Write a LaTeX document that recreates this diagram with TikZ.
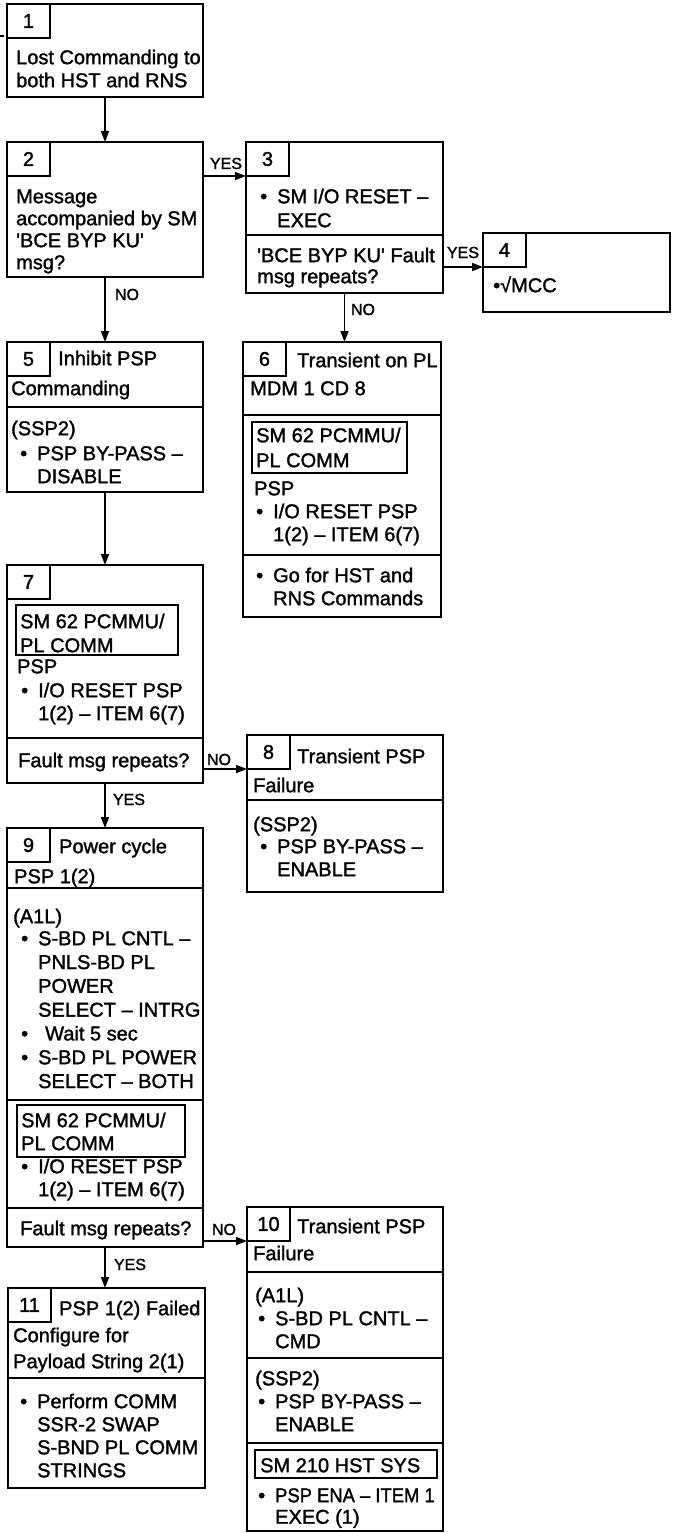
\documentclass[tikz,border=0pt]{standalone}
\usepackage{fontspec}
\usepackage{graphicx}
\setmainfont[FakeBold=1.5]{Liberation Sans}
\usetikzlibrary{arrows.meta}

\newcommand{\bul}{\llap{\textbullet\hspace{10pt}}}
\newcommand{\sq}{\textquotesingle}

\begin{document}
\begin{tikzpicture}[x=1pt,y=-1pt,
  box/.style={draw,line width=2pt,anchor=north west,inner sep=0pt,outer sep=0pt},
  numbox/.style={draw,line width=1.6pt,anchor=north west,inner sep=0pt,outer sep=0pt,
    minimum width=43pt,minimum height=34pt,font=\fontsize{20}{23}\selectfont},
  smbox/.style={draw,line width=1.6pt,anchor=north west,inner sep=0pt,outer sep=0pt},
  txt/.style={anchor=north west,inner sep=0pt,align=left,yshift={0.7*#1pt},
    font=\fontsize{20}{#1}\selectfont},
  txt/.default=23,
  lbl/.style={anchor=base,inner sep=0pt,font=\fontsize{16}{18}\selectfont},
  arr/.style={line width=1.6pt,-{Triangle[length=11pt,width=8pt]}},
  sep/.style={line width=2pt}]

\useasboundingbox (0,0) rectangle (672,1533);

%% boxes
% 1
\node[box,minimum width=196pt,minimum height=93pt] (b1) at (7,4) {};
\node[numbox] (n1) at (7,4) {1};
\node[txt] (t1) at (16,64) {\strut Lost Commanding to\\both HST and RNS};
\coordinate (in1) at (0,36);
\draw[line width=1.5pt] (in1) -- ++(4,0);

% 2
\node[box,minimum width=196pt,minimum height=135pt] (b2) at (7,142) {};
\node[numbox] (n2) at (7,142) {2};
\node[txt=22] (t2) at (16,203) {\strut Message\\accompanied by SM\\\sq BCE BYP KU\sq\\msg?};

% 3
\node[box,minimum width=197pt,minimum height=151pt] (b3) at (246,142) {};
\node[numbox] (n3) at (246,142) {3};
\node[txt=24] (t3a) at (277,203) {\strut\bul SM I/O RESET –\\EXEC};
\draw[sep] (b3.west |- 0,235) -- (b3.east |- 0,235);
\node[txt=21] (t3b) at (257,262) {\strut\sq BCE BYP KU\sq{} Fault\\msg repeats?};

% 4
\node[box,minimum width=187pt,minimum height=79pt] (b4) at (483,233) {};
\node[numbox] (n4) at (483,233) {4};
\node[txt] (t4) at (493,292) {\strut\textbullet√MCC};

% 5
\node[box,minimum width=196pt,minimum height=150pt] (b5) at (7,342) {};
\node[numbox] (n5) at (7,342) {5};
\node[txt] (t5a) at (58,365) {\strut Inhibit PSP};
\node[txt] (t5b) at (11,395) {\strut Commanding};
\draw[sep] (b5.west |- 0,407) -- (b5.east |- 0,407);
\node[txt] (t5c) at (11,435) {\strut(SSP2)};
\node[txt] (t5d) at (37,460) {\strut\bul PSP BY-PASS –\\DISABLE};

% 6
\node[box,minimum width=198pt,minimum height=275pt] (b6) at (243,342) {};
\node[numbox] (n6) at (243,342) {6};
\node[txt] (t6a) at (297,367) {\strut Transient on PL};
\node[txt] (t6b) at (250,395) {\strut MDM 1 CD 8};
\draw[sep] (b6.west |- 0,415) -- (b6.east |- 0,415);
\node[smbox,minimum width=155pt,minimum height=51pt] (s6) at (252,422) {};
\node[txt=25] (t6c) at (256,442) {\strut SM 62 PCMMU/\\PL COMM};
\node[txt] (t6d) at (254,495) {\strut PSP};
\node[txt] (t6e) at (273,518) {\strut\bul I/O RESET PSP\\1(2) – ITEM 6(7)};
\draw[sep] (b6.west |- 0,555) -- (b6.east |- 0,555);
\node[txt] (t6f) at (273,582) {\strut\bul Go for HST and\\RNS Commands};

% 7
\node[box,minimum width=196pt,minimum height=218pt] (b7) at (7,565) {};
\node[numbox] (n7) at (7,565) {7};
\node[smbox,minimum width=162pt,minimum height=50pt] (s7) at (16,605) {};
\node[txt=24] (t7a) at (20,628) {\strut SM 62 PCMMU/\\PL COMM};
\node[txt] (t7b) at (17,673) {\strut PSP};
\node[txt] (t7c) at (38,697) {\strut\bul I/O RESET PSP\\1(2) – ITEM 6(7)};
\draw[sep] (b7.west |- 0,738) -- (b7.east |- 0,738);
\node[txt] (t7d) at (18,767) {\strut Fault msg repeats?};

% 8
\node[box,minimum width=196pt,minimum height=157pt] (b8) at (247,735) {};
\node[numbox] (n8) at (247,735) {8};
\node[txt] (t8a) at (297,763) {\strut Transient PSP};
\node[txt] (t8b) at (253,792) {\strut Failure};
\draw[sep] (b8.west |- 0,800) -- (b8.east |- 0,800);
\node[txt] (t8c) at (253,831) {\strut(SSP2)};
\node[txt] (t8d) at (277,853) {\strut\bul PSP BY-PASS –\\ENABLE};

% 9
\node[box,minimum width=196pt,minimum height=419pt] (b9) at (7,828) {};
\node[numbox] (n9) at (7,828) {9};
\node[txt] (t9a) at (59,853) {\strut Power cycle};
\node[txt] (t9b) at (14,883) {\strut PSP 1(2)};
\draw[sep] (b9.west |- 0,888) -- (b9.east |- 0,888);
\node[txt] (t9c) at (13,923) {\strut(A1L)};
\node[txt=23.8] (t9d) at (38,945) {\strut\bul S-BD PL CNTL –\\PNLS-BD PL\\POWER\\SELECT – INTRG\\\bul\hspace{7pt}Wait 5 sec\\\bul S-BD PL POWER\\SELECT – BOTH};
\draw[sep] (b9.west |- 0,1100) -- (b9.east |- 0,1100);
\node[smbox,minimum width=168pt,minimum height=52pt] (s9) at (17,1105) {};
\node[txt] (t9e) at (21,1127) {\strut SM 62 PCMMU/\\PL COMM};
\node[txt] (t9f) at (38,1173) {\strut\bul I/O RESET PSP\\1(2) – ITEM 6(7)};
\draw[sep] (b9.west |- 0,1208) -- (b9.east |- 0,1208);
\node[txt] (t9g) at (20,1235) {\strut Fault msg repeats?};

% 10
\node[box,minimum width=196pt,minimum height=324pt] (b10) at (247,1207) {};
\node[numbox] (n10) at (247,1207) {10};
\node[txt] (t10a) at (297,1233) {\strut Transient PSP};
\node[txt] (t10b) at (253,1260) {\strut Failure};
\draw[sep] (b10.west |- 0,1272) -- (b10.east |- 0,1272);
\node[txt] (t10c) at (255,1302) {\strut(A1L)};
\node[txt] (t10d) at (275,1325) {\strut\bul S-BD PL CNTL –\\CMD};
\draw[sep] (b10.west |- 0,1358) -- (b10.east |- 0,1358);
\node[txt] (t10e) at (255,1385) {\strut(SSP2)};
\node[txt] (t10f) at (275,1408) {\strut\bul PSP BY-PASS –\\ENABLE};
\draw[sep] (b10.west |- 0,1443) -- (b10.east |- 0,1443);
\node[smbox,minimum width=182pt,minimum height=28pt] (s10) at (255,1450) {};
\node[txt] (t10g) at (260,1472) {\strut SM 210 HST SYS};
\node[txt=20] (t10h) at (275,1502) {\strut\bul\scalebox{0.92}[1]{PSP ENA – ITEM 1}\\EXEC (1)};

% 11
\node[box,minimum width=197pt,minimum height=200pt] (b11) at (8,1288) {};
\node[numbox] (n11) at (8,1288) {11};
\node[txt] (t11a) at (59,1315) {\strut PSP 1(2) Failed};
\node[txt=26] (t11b) at (13,1342) {\strut Configure for\\Payload String 2(1)};
\draw[sep] (b11.west |- 0,1378) -- (b11.east |- 0,1378);
\node[txt] (t11c) at (37,1408) {\strut\bul Perform COMM\\SSR-2 SWAP\\S-BND PL COMM\\STRINGS};

%% labels
\node[lbl] (l23) at (226,169) {YES};
\node[lbl] (l34) at (463,258) {YES};
\node[lbl] (l25) at (127,300) {NO};
\node[lbl] (l36) at (363,315) {NO};
\node[lbl] (l78) at (219,765) {NO};
\node[lbl] (l79) at (129,805) {YES};
\node[lbl] (l910) at (224,1235) {NO};
\node[lbl] (l911) at (130,1270) {YES};

%% arrows
\draw[arr] (b1.south) -- (b2.north);
\draw[arr] (n3.south west -| b2.east) -- (n3.south west);
\draw[arr] (n4.south west -| b3.east) -- (n4.south west);
\draw[arr] (b2.south) -- (b5.north);
\draw[arr] (b3.south) -- (b3.south |- b6.north);
\draw[arr] (b5.south) -- (b7.north);
\draw[arr] (n8.south west -| b7.east) -- (n8.south west);
\draw[arr] (b7.south) -- (b9.north);
\draw[arr] (n10.south west -| b9.east) -- (n10.south west);
\draw[arr] (b9.south) -- (b9.south |- b11.north);

\end{tikzpicture}
\end{document}
